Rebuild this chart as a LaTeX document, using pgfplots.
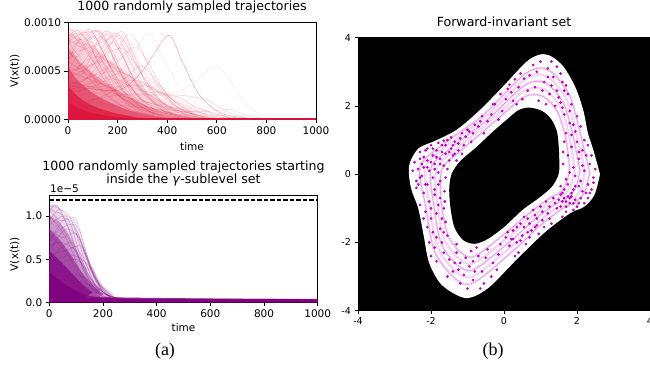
\documentclass[border=0pt]{standalone}
\usepackage{fontspec}
\setmainfont{DejaVu Sans}
\newfontfamily\seriffont{Liberation Serif}
\usepackage{pgfplots}
\pgfplotsset{compat=1.18}
\definecolor{crim}{HTML}{DC143C}
\definecolor{purp}{HTML}{800080}
\definecolor{mag}{HTML}{BF00BF}
\pgfplotsset{
  mpl/.style={
    scale only axis,
    axis line style={line width=0.8pt},
    tick pos=left, tick align=outside,
    major tick length=3.5pt,
    tick style={line width=0.8pt,black},
    tick label style={font=\fontsize{10.5}{12}\selectfont},
    label style={font=\fontsize{10.5}{12}\selectfont},
    title style={font=\fontsize{12.6}{13}\selectfont, at={(0.5,1)}, anchor=south, inner sep=0pt},
    scaled ticks=false,
  },
  tl/.style={crim, draw opacity=0.22, line width=0.5pt, smooth, no markers},
  pl/.style={purp, draw opacity=0.28, line width=0.5pt, smooth, no markers},
  orb/.style={mag, draw opacity=0.16, line width=2.4pt, smooth, no markers},
  orbt/.style={mag, draw opacity=0.35, line width=0.4pt, smooth, no markers},
}
\begin{document}
\begin{tikzpicture}
% ---------------- top left ----------------
\begin{axis}[mpl, at={(68pt,244.7pt)}, anchor=south west, width=248pt, height=96.6pt,
  xmin=0, xmax=1000, ymin=0, ymax=10,
  xtick={0,200,400,600,800,1000}, xticklabels={0,200,400,600,800,1000},
  ytick={0,5,10}, yticklabels={0.0000,0.0005,0.0010},
  title={1000 randomly sampled trajectories}, title style={yshift=3pt},
  xlabel={time}, xlabel style={at={(axis description cs:0.5,-0.318)}, anchor=base},
  ylabel={V(x(t))}, ylabel style={at={(axis description cs:-0.214,0.5)}, anchor=center},
]
% values in units of 1e-4
\addplot[fill=crim, fill opacity=0.05, draw=none, smooth] coordinates {(0,9.3)(50,9.3)(100,9.2)(150,9.2)(200,9.0)(240,8.5)(280,6.5)(330,4.5)(400,3)(480,1.8)(560,0.9)(650,0.3)(750,0.08)(1000,0.02)} \closedcycle;
\addplot[fill=crim, fill opacity=0.15, draw=none, smooth] coordinates {(0,9.0)(40,8.5)(100,7.5)(160,6.3)(220,5)(280,3.5)(350,2.2)(430,1.2)(520,0.5)(620,0.15)(1000,0.02)} \closedcycle;
\addplot[fill=crim, fill opacity=0.3, draw=none, smooth] coordinates {(0,7.5)(30,6.5)(80,5.2)(140,4)(200,3)(270,2)(350,1.1)(450,0.45)(560,0.12)(1000,0.02)} \closedcycle;
\addplot[fill=crim, fill opacity=0.5, draw=none, smooth] coordinates {(0,5.5)(30,4.3)(70,3.3)(120,2.4)(180,1.6)(250,0.9)(330,0.45)(430,0.15)(1000,0.02)} \closedcycle;
\addplot[fill=crim, fill opacity=0.7, draw=none, smooth] coordinates {(0,3.5)(30,2.6)(70,1.8)(120,1.2)(180,0.7)(250,0.35)(350,0.12)(1000,0.03)} \closedcycle;
\addplot[fill=crim, fill opacity=0.9, draw=none, smooth] coordinates {(0,1.8)(40,1.2)(90,0.7)(150,0.4)(220,0.2)(320,0.08)(1000,0.03)} \closedcycle;
\addplot[tl] coordinates {(0,9.3)(30,9.0)(80,7)(150,4)(250,1.5)(400,0.3)(600,0.05)};
\addplot[tl] coordinates {(0,8.5)(40,9.2)(90,7.5)(160,4)(260,1.2)(400,0.2)};
\addplot[tl] coordinates {(0,6)(50,8.5)(90,9.3)(140,7)(220,3)(330,0.8)(450,0.1)};
\addplot[tl] coordinates {(0,5)(60,7.5)(120,9.2)(170,7.5)(250,3.5)(350,1)(500,0.1)};
\addplot[tl] coordinates {(0,4)(80,6.5)(150,9.1)(200,7.8)(270,4)(380,1)(520,0.1)};
\addplot[tl] coordinates {(0,3)(100,6)(180,8.8)(230,8)(300,4.5)(400,1.2)(550,0.1)};
\addplot[tl] coordinates {(0,2.5)(120,5.5)(210,9.1)(260,7)(330,3)(450,0.6)(600,0.05)};
\addplot[tl] coordinates {(0,2)(150,5)(240,8.8)(290,7.5)(360,3.5)(470,0.8)(600,0.1)};
\addplot[tl, draw opacity=0.4] coordinates {(0,3.5)(200,3)(300,5)(404,8.7)(460,6)(530,2.5)(620,0.6)(750,0.05)};
\addplot[tl, draw opacity=0.1] coordinates {(0,2.5)(150,4)(250,6)(320,8.9)(380,6.5)(460,3)(560,0.8)(700,0.1)};
\addplot[tl, draw opacity=0.1] coordinates {(0,3)(200,2.5)(400,2.7)(500,3.5)(590,5.5)(640,4.5)(720,1.5)(800,0.2)};
\addplot[tl] coordinates {(0,6.5)(40,8.0)(100,6)(180,3)(300,1)(450,0.2)};
\addplot[tl] coordinates {(0,7.5)(20,8.8)(70,8.5)(130,5.5)(220,2.2)(350,0.5)};
\addplot[tl] coordinates {(0,4.5)(70,6)(130,6.5)(200,5)(300,2)(420,0.5)};
\addplot[tl] coordinates {(0,3.5)(100,4.5)(200,5)(280,4)(380,2.6)(450,2.3)(520,1.2)(650,0.2)};
\addplot[tl] coordinates {(0,2)(150,3.2)(300,3.5)(380,2.7)(450,1)(560,0.2)};
\addplot[tl] coordinates {(0,1.5)(200,2.5)(350,2.5)(450,2.5)(560,2)(640,0.8)(720,0.1)};
\addplot[tl] coordinates {(0,5.5)(30,7)(80,7.8)(140,6)(230,2.8)(350,0.7)};
\addplot[tl] coordinates {(0,8)(60,6)(140,3)(250,1)(400,0.1)};
\addplot[tl] coordinates {(0,7)(100,4.5)(200,2.5)(300,1.2)(450,0.3)};
\addplot[tl] coordinates {(0,6)(150,3.5)(300,1.5)(450,0.5)(600,0.1)};
\addplot[tl] coordinates {(0,5)(200,3)(350,1.5)(500,0.6)(650,0.15)(800,0.02)};
\addplot[tl] coordinates {(0,4)(250,2.2)(400,1.3)(550,0.6)(650,0.2)(750,0.03)};
\addplot[tl] coordinates {(0,3)(100,3.8)(220,4.8)(280,3.8)(360,2)(480,0.5)};
\addplot[tl] coordinates {(0,9.0)(10,9.3)(50,7.8)(110,8.5)(180,5)(280,1.5)};
\addplot[tl, draw opacity=0.18] coordinates {(0,2)(300,1.2)(500,0.8)(600,0.9)(660,1)(720,0.4)(800,0.05)};
\addplot[tl] coordinates {(0,5.5)(60,5)(110,7.5)(160,8.8)(210,7)(290,3)(400,0.6)};
\addplot[tl] coordinates {(0,8.8)(60,8.2)(110,9.2)(160,7.5)(240,3.5)(360,0.8)};
\addplot[tl] coordinates {(0,7)(40,6.5)(100,8.5)(150,8.2)(220,4.5)(320,1.2)};
\addplot[tl] coordinates {(0,1)(150,2.5)(250,4)(330,3.5)(420,1.6)(520,0.3)};
\addplot[tl] coordinates {(0,9.2)(30,8.6)(70,9.0)(120,7)(200,3)(300,0.8)};
\addplot[tl] coordinates {(0,8.0)(50,8.8)(130,9.0)(190,6)(270,2.2)(380,0.4)};
\addplot[tl] coordinates {(0,6.8)(60,7.2)(140,8.0)(200,8.6)(250,6)(330,2.2)(450,0.3)};
\addplot[tl] coordinates {(0,4.2)(90,5.5)(170,7.0)(230,7.2)(290,5)(380,1.8)(500,0.3)};
\addplot[tl] coordinates {(0,3.2)(120,4.8)(200,6)(270,7.5)(320,6)(400,2.5)(520,0.4)};
\addplot[tl] coordinates {(0,9.0)(20,7.0)(60,5.0)(130,3)(230,1.2)(380,0.2)};
\addplot[tl] coordinates {(0,8.3)(40,7.6)(100,6.8)(170,4.5)(260,1.8)(380,0.3)};
\addplot[tl] coordinates {(0,7.8)(70,8.3)(120,7.0)(170,5.5)(230,5.0)(300,3)(420,0.6)};
\addplot[tl] coordinates {(0,5.0)(80,5.5)(160,6.0)(240,4.5)(330,2.5)(420,1.5)(500,0.6)};
\addplot[tl] coordinates {(0,2.8)(200,3.8)(290,5.5)(340,4.5)(420,2.0)(520,0.4)};
\addplot[tl] coordinates {(0,6.0)(30,7.5)(60,8.5)(100,8.9)(150,6.5)(240,2.5)(350,0.5)};
\addplot[tl] coordinates {(0,4.6)(70,4.8)(130,6.5)(180,8.0)(220,6.5)(300,2.8)(420,0.5)};
\addplot[tl] coordinates {(0,3.8)(100,3.4)(180,4.2)(260,3.3)(330,2.8)(380,2.8)(440,1.8)(560,0.4)};
\addplot[crim, line width=1.2pt] coordinates {(0,0.03)(1000,0.03)};
\end{axis}
% ---------------- bottom left ----------------
\begin{axis}[mpl, at={(49.3pt,61.7pt)}, anchor=south west, width=268.4pt, height=106.8pt,
  xmin=0, xmax=1000, ymin=0, ymax=1.24,
  xtick={0,200,400,600,800,1000}, xticklabels={0,200,400,600,800,1000},
  ytick={0,0.5,1}, yticklabels={0.0,0.5,1.0},
  title={1000 randomly sampled trajectories starting\\inside the \textit{γ}-sublevel set},
  title style={align=center, yshift=3pt},
  xlabel={time}, xlabel style={at={(axis description cs:0.5,-0.275)}, anchor=base},
  ylabel={V(x(t))}, ylabel style={at={(axis description cs:-0.128,0.45)}, anchor=center},
]
% values in units of 1e-5
\addplot[fill=purp, fill opacity=0.15, draw=none, smooth] coordinates {(0,1.13)(25,1.13)(60,1.0)(100,0.85)(140,0.55)(170,0.35)(200,0.2)(240,0.1)(280,0.04)(1000,0.04)} \closedcycle;
\addplot[fill=purp, fill opacity=0.3, draw=none, smooth] coordinates {(0,1.0)(30,0.95)(70,0.8)(110,0.55)(150,0.3)(190,0.15)(240,0.06)(1000,0.04)} \closedcycle;
\addplot[fill=purp, fill opacity=0.5, draw=none, smooth] coordinates {(0,0.85)(40,0.72)(80,0.55)(120,0.35)(160,0.2)(200,0.1)(250,0.045)(1000,0.04)} \closedcycle;
\addplot[fill=purp, fill opacity=0.7, draw=none, smooth] coordinates {(0,0.6)(40,0.48)(80,0.35)(120,0.22)(160,0.12)(210,0.06)(1000,0.035)} \closedcycle;
\addplot[fill=purp, fill opacity=0.9, draw=none, smooth] coordinates {(0,0.35)(40,0.25)(90,0.15)(140,0.08)(200,0.045)(1000,0.035)} \closedcycle;
\addplot[pl] coordinates {(0,1.05)(25,1.13)(60,0.95)(100,0.6)(150,0.25)(200,0.08)(260,0.03)};
\addplot[pl] coordinates {(0,0.95)(40,1.08)(80,0.9)(120,0.5)(170,0.2)(230,0.05)};
\addplot[pl] coordinates {(0,0.7)(50,0.95)(90,0.95)(130,0.6)(180,0.25)(240,0.05)};
\addplot[pl] coordinates {(0,0.6)(60,0.85)(110,0.75)(145,0.45)(190,0.15)(250,0.04)};
\addplot[pl] coordinates {(0,0.5)(80,0.7)(135,0.45)(175,0.18)(200,0.1)(260,0.04)};
\addplot[pl] coordinates {(0,0.4)(100,0.5)(150,0.3)(175,0.2)(210,0.1)(270,0.03)};
\addplot[pl] coordinates {(0,1.0)(30,0.9)(70,0.7)(110,0.4)(160,0.15)(220,0.04)};
\addplot[pl] coordinates {(0,0.8)(70,0.55)(130,0.25)(200,0.06)};
\addplot[pl] coordinates {(0,0.3)(120,0.3)(175,0.18)(220,0.08)(280,0.03)};
\addplot[pl] coordinates {(0,1.1)(20,1.05)(45,1.02)(80,0.8)(130,0.35)(190,0.08)};
\addplot[pl] coordinates {(0,0.85)(50,0.75)(100,0.8)(140,0.5)(200,0.12)(260,0.03)};
\addplot[pl] coordinates {(0,0.65)(40,0.7)(100,0.6)(140,0.38)(160,0.4)(200,0.12)(260,0.04)};
\addplot[pl] coordinates {(0,1.12)(30,1.1)(60,1.05)(90,0.9)(130,0.5)(180,0.15)(240,0.04)};
\addplot[pl] coordinates {(0,0.9)(50,1.0)(100,0.95)(135,0.6)(175,0.25)(230,0.05)};
\addplot[pl] coordinates {(0,0.75)(70,0.9)(110,0.85)(150,0.45)(190,0.2)(250,0.04)};
\addplot[pl] coordinates {(0,0.55)(60,0.6)(120,0.65)(160,0.35)(200,0.12)(260,0.04)};
\addplot[pl] coordinates {(0,0.45)(80,0.55)(140,0.45)(175,0.25)(230,0.06)};
\addplot[pl] coordinates {(0,1.08)(40,0.95)(80,0.95)(120,0.7)(160,0.35)(210,0.1)};
\addplot[pl] coordinates {(0,0.95)(20,1.0)(70,0.75)(120,0.45)(170,0.15)(220,0.05)};
\addplot[pl] coordinates {(0,0.25)(100,0.25)(170,0.17)(220,0.08)(290,0.03)};
\addplot[black, line width=1.4pt, dash pattern=on 4.5pt off 2pt] coordinates {(0,1.19)(1000,1.19)};
\end{axis}
\node[anchor=base west, inner sep=0pt, font=\fontsize{10.5}{12}\selectfont] at (50pt,171pt) {1e−5};
% ---------------- right ----------------
\begin{axis}[mpl, at={(358pt,53.3pt)}, anchor=south west, width=292pt, height=273pt,
  axis background/.style={fill=black},
  xmin=-4, xmax=4, ymin=-4, ymax=4,
  xtick={-4,-2,0,2,4}, xticklabels={-4,-2,0,2,4},
  ytick={-4,-2,0,2,4}, yticklabels={-4,-2,0,2,4},
  tick label style={font=\fontsize{9.5}{11}\selectfont},
  title={Forward-invariant set}, title style={yshift=5pt},
]
\addplot[fill=white, draw=none, smooth] coordinates {(2.63,0.00)(2.45,0.70)(2.30,1.20)(2.17,1.88)(1.95,2.56)(1.63,3.15)(1.30,3.45)(1.00,3.51)(0.62,3.30)(0.00,2.60)(-0.66,1.88)(-1.30,1.30)(-1.90,0.97)(-2.35,0.75)(-2.60,0.25)(-2.55,-0.40)(-2.35,-1.00)(-2.20,-1.80)(-2.05,-2.60)(-1.70,-3.25)(-1.05,-3.63)(-0.45,-3.35)(0.30,-2.55)(1.10,-1.72)(1.80,-1.15)(2.20,-0.95)(2.48,-0.60)(2.63,0.00)};
\addplot[fill=black, draw=none, smooth] coordinates {(1.52,0.20)(1.50,0.80)(1.45,1.25)(1.30,1.60)(1.05,1.85)(0.70,1.95)(0.40,1.88)(0.10,1.62)(-0.30,1.25)(-0.75,0.80)(-1.20,0.38)(-1.43,0.02)(-1.50,-0.40)(-1.47,-0.95)(-1.36,-1.55)(-1.12,-1.93)(-0.80,-2.04)(-0.45,-1.90)(0.00,-1.55)(0.50,-1.05)(0.95,-0.70)(1.30,-0.38)(1.48,-0.05)(1.52,0.20)};
\addplot[orb] coordinates {(1.80,0.15)(1.70,1.01)(1.46,1.84)(1.04,2.29)(0.53,2.25)(-0.32,1.48)(-1.19,0.69)(-1.70,0.14)(-1.71,-0.89)(-1.49,-1.89)(-0.90,-2.43)(0.00,-1.76)(0.65,-1.18)(1.20,-0.74)(1.53,-0.54)(1.71,-0.26)(1.80,0.15)};
\addplot[orb] coordinates {(1.94,0.13)(1.80,1.05)(1.55,1.96)(1.09,2.49)(0.55,2.43)(-0.38,1.55)(-1.31,0.74)(-1.85,0.16)(-1.82,-0.91)(-1.59,-2.01)(-0.93,-2.63)(0.05,-1.90)(0.73,-1.27)(1.30,-0.81)(1.64,-0.61)(1.84,-0.32)(1.94,0.13)};
\addplot[orb] coordinates {(2.08,0.10)(1.90,1.08)(1.63,2.08)(1.13,2.68)(0.56,2.60)(-0.43,1.62)(-1.43,0.79)(-2.00,0.18)(-1.92,-0.93)(-1.68,-2.13)(-0.95,-2.83)(0.10,-2.03)(0.80,-1.36)(1.40,-0.88)(1.75,-0.68)(1.97,-0.38)(2.08,0.10)};
\addplot[orb] coordinates {(2.22,0.08)(2.00,1.11)(1.71,2.20)(1.17,2.87)(0.58,2.78)(-0.49,1.69)(-1.55,0.84)(-2.15,0.20)(-2.03,-0.95)(-1.77,-2.25)(-0.98,-3.03)(0.15,-2.16)(0.88,-1.45)(1.50,-0.95)(1.87,-0.75)(2.10,-0.44)(2.22,0.08)};
\addplot[orb] coordinates {(2.35,0.05)(2.10,1.14)(1.79,2.32)(1.21,3.06)(0.59,2.95)(-0.55,1.75)(-1.66,0.88)(-2.30,0.21)(-2.14,-0.96)(-1.86,-2.36)(-1.00,-3.23)(0.20,-2.29)(0.95,-1.54)(1.60,-1.01)(1.98,-0.81)(2.22,-0.49)(2.35,0.05)};
\addplot[orbt] coordinates {(1.80,0.15)(1.70,1.01)(1.46,1.84)(1.04,2.29)(0.53,2.25)(-0.32,1.48)(-1.19,0.69)(-1.70,0.14)(-1.71,-0.89)(-1.49,-1.89)(-0.90,-2.43)(0.00,-1.76)(0.65,-1.18)(1.20,-0.74)(1.53,-0.54)(1.71,-0.26)(1.80,0.15)};
\addplot[orbt] coordinates {(2.08,0.10)(1.90,1.08)(1.63,2.08)(1.13,2.68)(0.56,2.60)(-0.43,1.62)(-1.43,0.79)(-2.00,0.18)(-1.92,-0.93)(-1.68,-2.13)(-0.95,-2.83)(0.10,-2.03)(0.80,-1.36)(1.40,-0.88)(1.75,-0.68)(1.97,-0.38)(2.08,0.10)};
\addplot[orbt] coordinates {(2.35,0.05)(2.10,1.14)(1.79,2.32)(1.21,3.06)(0.59,2.95)(-0.55,1.75)(-1.66,0.88)(-2.30,0.21)(-2.14,-0.96)(-1.86,-2.36)(-1.00,-3.23)(0.20,-2.29)(0.95,-1.54)(1.60,-1.01)(1.98,-0.81)(2.22,-0.49)(2.35,0.05)};
\addplot[only marks, mark=*, mark size=1.15pt, mag, mark options={draw=none, fill=mag}] coordinates {
(1.62,0.30)(1.75,0.55)(1.90,0.20)(2.05,0.45)(2.20,0.10)(2.35,0.30)(2.45,-0.10)(2.30,-0.30)(2.10,-0.20)(1.95,-0.05)(1.80,0.05)(1.70,-0.15)(1.85,0.80)(2.00,0.95)(2.15,0.70)(1.65,0.95)(1.70,1.20)(1.95,1.25)(2.10,1.40)(1.80,1.50)(2.00,1.70)(1.65,1.75)(2.25,0.55)(2.50,0.15)(2.40,0.55)(1.62,0.65)(2.05,-0.35)(2.25,-0.55)(1.90,-0.45)(2.45,-0.25)
(1.55,2.10)(1.75,2.35)(1.85,2.05)(1.45,2.45)(1.60,2.70)(1.35,2.85)(1.20,3.10)(1.45,3.15)(1.00,3.30)(0.90,3.00)(1.10,2.70)(1.25,2.35)(1.40,2.00)(1.70,2.60)(1.55,2.95)(0.80,3.20)(1.05,2.45)(0.95,2.15)(1.15,2.05)(1.80,1.85)(0.70,2.90)(1.30,3.30)(1.60,1.95)(0.85,2.55)
(0.50,2.20)(0.40,2.55)(0.55,2.80)(0.30,2.78)(0.20,2.40)(0.05,2.20)(0.10,2.50)(-0.10,2.35)(-0.25,2.05)(-0.05,1.85)(-0.35,1.75)(-0.45,1.55)(-0.60,1.70)(-0.70,1.40)(-0.55,1.20)(-0.85,1.20)(-0.90,0.95)(-1.00,1.30)(0.35,2.05)(0.65,2.45)(0.25,2.15)(-0.15,1.60)(-0.30,2.05)(0.45,2.95)(0.15,2.62)
(-1.10,0.85)(-1.25,0.70)(-1.35,0.95)(-1.45,0.75)(-1.55,1.00)(-1.60,0.60)(-1.70,0.85)(-1.75,0.45)(-1.85,0.70)(-1.90,0.30)(-1.95,0.55)(-2.00,0.85)(-2.05,0.10)(-2.10,0.40)(-2.15,0.70)(-2.20,0.20)(-2.25,-0.05)(-2.30,0.45)(-2.35,0.15)(-2.40,-0.20)(-2.45,0.35)(-1.50,0.40)(-1.65,0.25)(-1.80,0.05)(-1.40,0.55)(-1.30,0.40)(-1.20,1.05)(-1.65,0.98)(-1.80,0.92)(-2.10,0.75)(-2.50,0.10)(-1.55,0.15)(-1.95,-0.10)(-2.15,-0.30)(-1.75,-0.20)(-1.60,-0.10)(-2.30,0.65)(-1.45,1.08)(-1.15,0.60)(-1.90,0.15)
(-1.63,-0.50)(-1.75,-0.70)(-1.90,-0.45)(-2.05,-0.80)(-2.20,-0.55)(-2.30,-0.90)(-1.65,-1.00)(-1.85,-1.15)(-2.00,-1.30)(-2.15,-1.10)(-1.60,-1.40)(-1.75,-1.60)(-1.95,-1.70)(-2.10,-1.55)(-1.55,-1.80)(-1.70,-2.00)(-1.90,-2.15)(-2.05,-2.00)(-2.40,-0.40)(-1.62,-0.80)(-1.80,-0.30)(-2.00,-2.40)(-1.85,-2.55)(-1.65,-2.30)
(-1.50,-2.50)(-1.30,-2.30)(-1.20,-2.60)(-1.40,-2.85)(-1.10,-2.95)(-0.95,-2.70)(-0.85,-3.10)(-1.00,-3.35)(-0.70,-2.40)(-0.60,-2.85)(-0.45,-2.20)(-0.30,-2.60)(-0.35,-3.00)(-0.75,-2.15)(-1.20,-3.20)(-1.55,-3.00)(-0.55,-3.20)(-0.15,-2.35)(-0.20,-2.80)(-1.30,-2.05)(-0.90,-2.25)(-0.65,-3.35)
(0.05,-1.85)(0.15,-2.10)(0.25,-1.65)(0.35,-2.00)(0.45,-1.45)(0.50,-1.80)(0.60,-2.05)(0.65,-1.30)(0.75,-1.65)(0.85,-1.20)(0.90,-1.50)(1.00,-0.95)(1.05,-1.35)(1.15,-0.80)(1.20,-1.15)(1.30,-1.45)(1.35,-0.70)(1.45,-1.00)(1.55,-0.60)(1.60,-1.25)(0.30,-2.40)(0.10,-1.70)(-0.10,-2.05)(0.70,-1.85)(0.95,-1.75)(0.55,-1.25)(1.10,-1.55)(0.40,-2.30)(0.20,-1.90)(0.80,-1.05)
(1.65,-0.45)(1.75,-0.65)(1.80,-0.85)(1.85,-0.55)(1.95,-0.75)(2.00,-0.95)(1.70,-0.95)(1.60,-0.80)(1.90,-1.05)(2.10,-0.70)(2.20,-0.85)(2.30,-0.70)(1.75,-0.30)(1.55,-0.35)(2.40,-0.45)(1.85,-0.65)(1.65,-0.70)(1.70,-1.10)(2.15,-0.50)(1.95,-0.35)
(-1.25,0.90)(-1.40,0.85)(-1.50,0.65)(-1.70,0.65)(-1.85,0.50)(-2.00,0.35)(-2.10,0.20)(-2.20,0.50)(-1.60,0.85)(-1.95,0.75)(-1.35,0.60)(-1.75,0.30)(-2.25,0.30)(-1.05,1.10)(-0.95,1.25)(-0.80,1.45)(-0.65,1.55)(-1.15,1.20)(-2.35,-0.30)(-2.30,-0.10)
(0.35,-1.55)(0.55,-1.55)(0.70,-1.45)(0.90,-1.30)(1.05,-1.10)(1.25,-0.95)(1.40,-0.85)(1.55,-0.95)(1.70,-0.80)(1.80,-0.70)(1.90,-0.85)(2.05,-0.85)(1.60,-0.55)(1.50,-0.75)(0.25,-1.90)(0.45,-1.95)(0.65,-1.70)(0.85,-1.55)(1.25,-1.30)(2.35,-0.55)
(-1.80,-0.90)(-2.00,-1.00)(-1.70,-1.30)(-1.85,-1.85)(-1.65,-1.70)(-2.20,-1.30)(-1.90,-0.60)(-2.10,-0.30)
(-1.05,-2.45)(-0.85,-2.55)(-1.35,-2.60)(-0.50,-2.45)(-0.80,-2.85)(-1.25,-2.80)
(1.50,2.25)(1.65,2.45)(1.30,2.60)(1.20,2.85)(1.90,1.45)(1.85,1.15)(2.20,1.00)(2.30,0.85)(2.05,0.65)(2.15,0.25)
};
\end{axis}
\node[font=\seriffont\fontsize{18}{20}\selectfont] at (165pt,13pt) {(a)};
\node[font=\seriffont\fontsize{18}{20}\selectfont] at (493pt,13pt) {(b)};
\pgfresetboundingbox
\path[use as bounding box] (0,0) rectangle (650pt,364pt);
\end{tikzpicture}
\end{document}
